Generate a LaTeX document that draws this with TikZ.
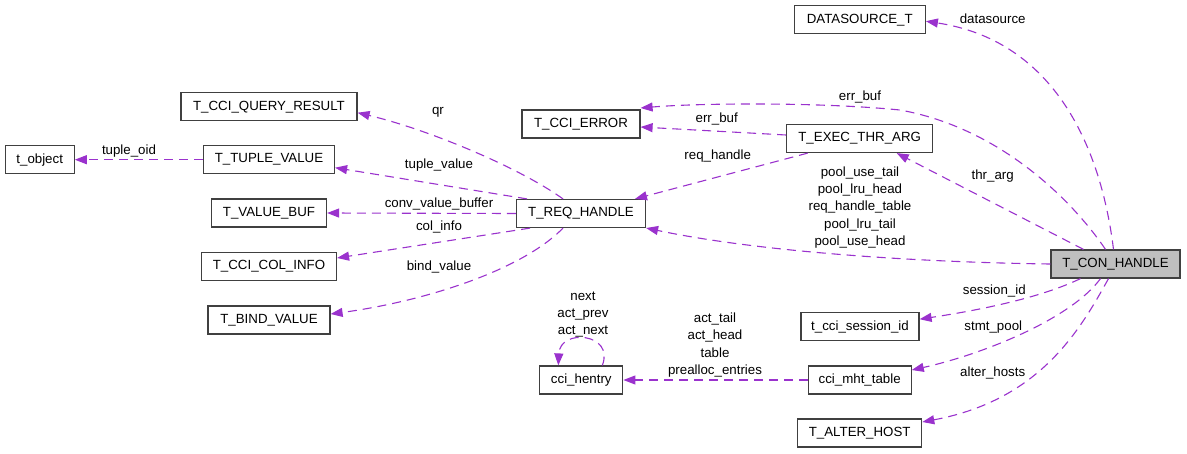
\documentclass[tikz,border=0pt]{standalone}
\usepackage{fontspec}
\setmainfont{Liberation Sans}
\usetikzlibrary{arrows.meta}
\definecolor{edgecol}{HTML}{9A32CD}
\definecolor{boxgray}{HTML}{BFBFBF}
\tikzset{
  box/.style={draw=black!75, line width=1.2pt, fill=white, rectangle, minimum height=28pt, inner sep=0pt, font=\fontsize{13.3}{15}\selectfont},
  edge/.style={draw=edgecol, line width=1.1pt, dash pattern=on 9pt off 6pt, -{Triangle[length=12pt,width=9pt,fill=edgecol]}},
  lab/.style={inner sep=0pt, align=center, font=\fontsize{13.3}{17.4}\selectfont}
}
\begin{document}
\begin{tikzpicture}[x=1pt,y=-1pt]
\useasboundingbox (0,0) rectangle (1187,453);
% nodes
\node[box, minimum width=176pt] (qres) at (269,106.7) {T\_CCI\_QUERY\_RESULT};
\node[box, minimum width=69pt] (tobj) at (39.7,159.7) {t\_object};
\node[box, minimum width=131pt] (tuple) at (269,159.7) {T\_TUPLE\_VALUE};
\node[box, minimum width=115pt] (vbuf) at (269,213) {T\_VALUE\_BUF};
\node[box, minimum width=135pt] (colinfo) at (269,266.5) {T\_CCI\_COL\_INFO};
\node[box, minimum width=122pt] (bind) at (269,320) {T\_BIND\_VALUE};
\node[box, minimum width=118pt] (err) at (581,124) {T\_CCI\_ERROR};
\node[box, minimum width=129pt] (req) at (581,213.5) {T\_REQ\_HANDLE};
\node[box, minimum width=146pt] (exec) at (859.7,138.5) {T\_EXEC\_THR\_ARG};
\node[box, minimum width=131pt] (ds) at (859.8,19.7) {DATASOURCE\_T};
\node[box, minimum width=129pt, fill=boxgray] (con) at (1115.5,264) {T\_CON\_HANDLE};
\node[box, minimum width=83pt] (hentry) at (581.3,380) {cci\_hentry};
\node[box, minimum width=118pt] (sess) at (860,326.7) {t\_cci\_session\_id};
\node[box, minimum width=103pt] (mht) at (859.7,380) {cci\_mht\_table};
\node[box, minimum width=124pt] (alter) at (859.7,433) {T\_ALTER\_HOST};
% edges
\draw[edge] (tuple.west) -- (tobj.east);
\draw[edge] ([xshift=-18pt]req.north) .. controls (520,168) and (430,130) .. ([yshift=-6pt]qres.east);
\draw[edge] ([xshift=-54pt]req.north) -- ([yshift=-8pt]tuple.east);
\draw[edge] (req.west) -- (vbuf.east);
\draw[edge] ([xshift=-51pt]req.south) -- ([yshift=8.5pt]colinfo.east);
\draw[edge] ([xshift=-18pt]req.south) .. controls (520,272) and (420,302) .. ([yshift=6pt]bind.east);
\draw[edge] ([yshift=3.5pt]exec.west) -- ([yshift=-3pt]err.east);
\draw[edge] ([xshift=-52pt]exec.south) -- ([xshift=54pt]req.north);
\draw[edge] ([xshift=-10pt]con.north) .. controls (1072,200) and (1000,128) .. (900,110) .. controls (820,102) and (700,103) .. ([yshift=16pt]err.east);
\draw[edge] ([xshift=-2pt]con.north) .. controls (1100,140) and (1050,40) .. ([yshift=-1.5pt]ds.east);
\draw[edge] ([xshift=-32pt]con.north) -- ([xshift=37pt]exec.south);
\draw[edge] (con.west) .. controls (900,262) and (750,250) .. ([yshift=-14.5pt]req.east);
\draw[edge] ([xshift=-35pt]con.south) .. controls (1040,298) and (980,310) .. ([yshift=7.5pt]sess.east);
\draw[edge] ([xshift=-15pt]con.south) .. controls (1070,320) and (980,355) .. ([yshift=10pt]mht.east);
\draw[edge] ([xshift=-7pt]con.south) .. controls (1080,330) and (1040,400) .. ([yshift=11pt]alter.east);
\draw[edge] (mht.west) -- (hentry.east);
\draw[edge] ([xshift=21pt]hentry.north) .. controls (615,333) and (560,328) .. ([xshift=-23pt]hentry.north);
% labels
\node[lab] (l1) at (129,151) {tuple\_oid};
\node[lab] (l2) at (438,112) {qr};
\node[lab] (l3) at (439,165) {tuple\_value};
\node[lab] (l4) at (439,204) {conv\_value\_buffer};
\node[lab] (l5) at (439,226.7) {col\_info};
\node[lab] (l6) at (439,266.7) {bind\_value};
\node[lab] (l7) at (716.7,119.3) {err\_buf};
\node[lab] (l8) at (717.7,155.7) {req\_handle};
\node[lab] (l9) at (860,96.7) {err\_buf};
\node[lab] (l10) at (992.7,18.3) {datasource};
\node[lab] (l11) at (992.7,175.7) {thr\_arg};
\node[lab] (l12) at (860,207.5) {pool\_use\_tail\\pool\_lru\_head\\req\_handle\_table\\pool\_lru\_tail\\pool\_use\_head};
\node[lab] (l13) at (994.3,290.7) {session\_id};
\node[lab] (l14) at (993.3,326.7) {stmt\_pool};
\node[lab] (l15) at (992.7,372.7) {alter\_hosts};
\node[lab] (l16) at (583,314.5) {next\\act\_prev\\act\_next};
\node[lab] (l17) at (715,345) {act\_tail\\act\_head\\table\\prealloc\_entries};
\end{tikzpicture}
\end{document}
